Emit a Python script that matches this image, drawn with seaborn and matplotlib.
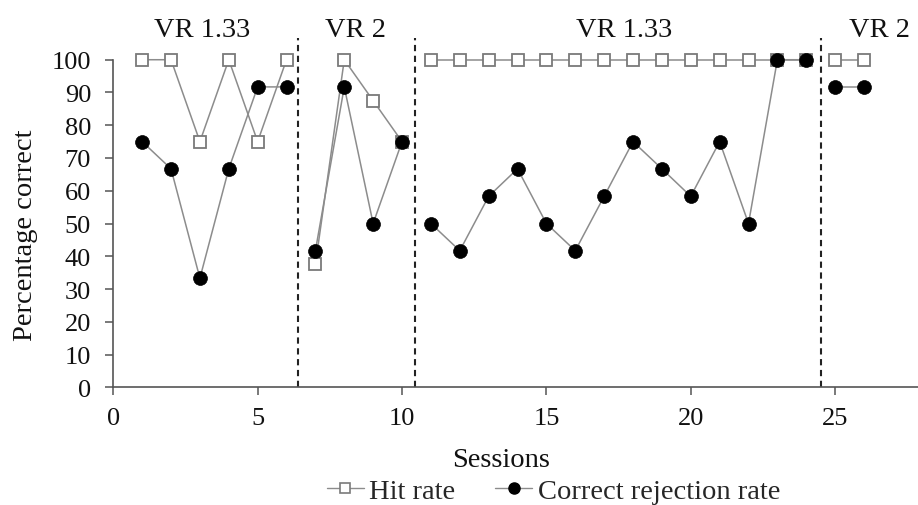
import matplotlib
matplotlib.use("Agg")
import matplotlib.pyplot as plt
import seaborn as sns
import pandas as pd
from matplotlib.lines import Line2D

# Sessions and phases
sessions = list(range(1, 27))
phase_ids = [1] * 6 + [2] * 4 + [3] * 14 + [4] * 2
phase_names = ["VR 1.33", "VR 2", "VR 1.33", "VR 2"]
phase_label_x = [3.07, 8.4, 17.7, 26.55]
phase_change_x = [6.4, 10.45, 24.5]

# Percentage correct per session
hit_rate = [100, 100, 75, 100, 75, 100,
            37.5, 100, 87.5, 75,
            100, 100, 100, 100, 100, 100, 100, 100, 100, 100, 100, 100, 100, 100,
            100, 100]
cr_rate = [75, 66.7, 33.3, 66.7, 91.7, 91.7,
           41.7, 91.7, 50, 75,
           50, 41.7, 58.3, 66.7, 50, 41.7, 58.3, 75, 66.7, 58.3, 75, 50, 100, 100,
           91.7, 91.7]

y_ticks = [0, 10, 20, 30, 40, 50, 60, 70, 80, 90, 100]
x_ticks = [0, 5, 10, 15, 20, 25]

df = pd.DataFrame({"Session": sessions, "Phase": phase_ids,
                   "Hit": hit_rate, "CR": cr_rate})

sns.set_theme(style="ticks")
plt.rcParams["font.family"] = ["Liberation Serif", "DejaVu Serif"]

fig = plt.figure(figsize=(9.18, 5.06), dpi=100)
ax = fig.add_axes([0.1234, 0.2326, 0.8766, 0.7445])

line_col = "#8c8c8c"
for ph in sorted(df["Phase"].unique()):
    seg = df[df["Phase"] == ph]
    sns.lineplot(data=seg, x="Session", y="Hit", ax=ax, color=line_col,
                 linewidth=1.1, marker="s", markersize=8.5,
                 markerfacecolor="white", markeredgecolor="#7a7a7a",
                 markeredgewidth=1.3, estimator=None, zorder=3)
for ph in sorted(df["Phase"].unique()):
    seg = df[df["Phase"] == ph]
    sns.lineplot(data=seg, x="Session", y="CR", ax=ax, color=line_col,
                 linewidth=1.1, marker="o", markersize=10,
                 markerfacecolor="black", markeredgecolor="black",
                 markeredgewidth=0.5, estimator=None, zorder=4)

# Phase-change lines and phase labels
ax.vlines(phase_change_x, 0, 106.6, colors="#222222", linestyles=(0, (3, 2.2)),
          linewidth=1.5, zorder=2)
for name, xpos in zip(phase_names, phase_label_x):
    ax.text(xpos, 109.2, name, ha="center", va="center", fontsize=20.5,
            color="#111111", clip_on=False)

ax.set_xlim(0, 27.87)
ax.set_ylim(0, 115)
ax.set_xticks(x_ticks)
ax.set_yticks(y_ticks)
ax.spines["top"].set_visible(False)
ax.spines["right"].set_visible(False)
ax.spines["left"].set_bounds(0, 100)
for s in ("left", "bottom"):
    ax.spines[s].set_color("#555555")
    ax.spines[s].set_linewidth(1.2)
ax.tick_params(axis="both", direction="out", length=6, width=1.1,
               color="#555555", labelsize=19, labelcolor="#111111")
ax.tick_params(axis="y", pad=10)
ax.tick_params(axis="x", pad=8)
ax.set_xlabel("Sessions", fontsize=20.5, color="#111111")
ax.set_ylabel("Percentage correct", fontsize=20.5, color="#111111")
ax.xaxis.set_label_coords((501 - 113.3) / 804.7, -0.158)
ax.yaxis.set_label_coords(-0.094, 46.8 / 115)

handles = [
    Line2D([], [], color=line_col, linewidth=1.0, marker="s", markersize=7,
           markerfacecolor="white", markeredgecolor="#7a7a7a", markeredgewidth=1.2),
    Line2D([], [], color=line_col, linewidth=1.0, marker="o", markersize=8,
           markerfacecolor="black", markeredgecolor="black"),
]
fig.legend(handles, ["Hit rate", "Correct rejection rate"], loc="center",
           bbox_to_anchor=(0.603, 0.028), ncol=2, frameon=False, fontsize=20.5,
           handlelength=1.3, handletextpad=0.2, columnspacing=1.4,
           borderpad=0, borderaxespad=0)

fig.savefig("out.png", dpi=100)
